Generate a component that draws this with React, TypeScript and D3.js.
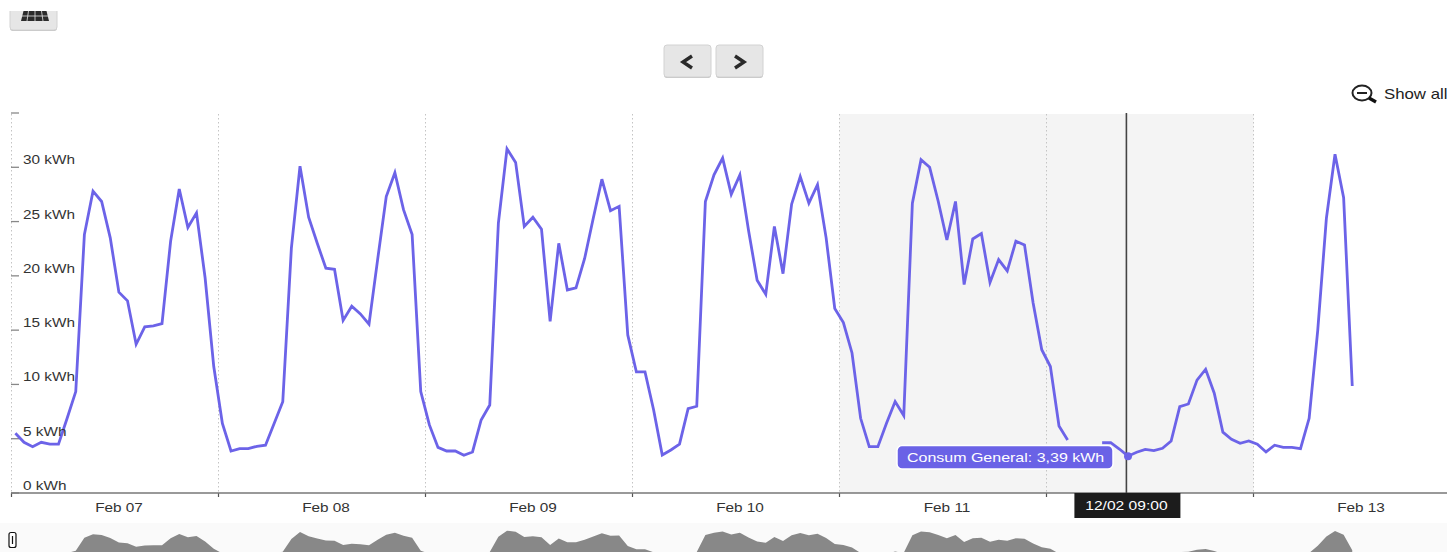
import React from "react";
import * as d3 from "d3";

const consumption: (number | null)[] = [
  5.5, 4.67, 4.27, 4.67, 4.5, 4.5, 6.88, 9.34, 23.8, 27.8, 26.85, 23.5, 18.5, 17.7, 13.7, 15.3, 15.4, 15.6, 23.2, 28.0, 24.45, 25.8, 19.8, 11.65, 6.4,
  3.87, 4.09, 4.09, 4.3, 4.4, 6.4, 8.4, 22.55, 30.1, 25.4, 23.0, 20.7, 20.6, 15.9, 17.2, 16.5, 15.55, 21.5, 27.3, 29.5, 26.1, 23.8, 9.34, 6.27, 4.2,
  3.87, 3.87, 3.47, 3.78, 6.73, 8.1, 24.85, 31.7, 30.45, 24.55, 25.4, 24.3, 15.8, 23.0, 18.7, 18.9, 21.6, 25.3, 28.9, 26.0, 26.4, 14.56, 11.15, 11.15, 7.65,
  3.5, 3.96, 4.5, 7.77, 7.99, 26.85, 29.3, 30.85, 27.5, 29.3, 24.2, 19.6, 18.3, 24.55, 20.2, 26.6, 29.15, 26.7, 28.4, 23.5, 17.0, 15.7, 12.9, 6.88, 4.27,
  4.27, 6.42, 8.42, 7.13, 26.7, 30.7, 30.0, 26.85, 23.3, 26.85, 19.2, 23.4, 23.9, 19.4, 21.5, 20.46, 23.2, 22.85, 17.5, 13.2, 11.65, 6.17, 4.88, null, null,
  null, 4.63, 4.63, 4.05, 3.39, 3.75, 4.02, 3.9, 4.12, 4.79, 7.95, 8.2, 10.4, 11.4, 9.19, 5.6, 4.95, 4.58, 4.79, 4.49, 3.78, 4.4, 4.2, 4.2, 4.09, 6.88,
  15.0, 25.3, 31.2, 27.2, 9.86,
];
const yTicks = [0, 5, 10, 15, 20, 25, 30];
const yTopTick = 35;
const dayStarts = ["2021-02-07", "2021-02-08", "2021-02-09", "2021-02-10", "2021-02-11", "2021-02-12", "2021-02-13"];
const dayLabels = ["Feb 07", "Feb 08", "Feb 09", "Feb 10", "Feb 11", "", "Feb 13"];
const selectedBand = ["2021-02-11", "2021-02-13"];
const hoverIndex = 129;
const hoverValue = "3,39";
const hoverTime = "12/02 09:00";
const seriesName = "Consum General";

const FONT = "'Liberation Sans', Arial, sans-serif";
const parse = (s: string) => new Date(s + "T00:00:00");
const HOUR = 3600 * 1000;

const t = d3.scaleTime().domain([parse(dayStarts[0]), parse(dayStarts[6])]).range([11.5, 1253.5]);
const firstPoint = parse(dayStarts[0]).getTime() + 0.45 * HOUR;
const x = (i: number) => t(new Date(firstPoint + i * HOUR));
const y = d3.scaleLinear().domain([0, 35]).range([493, 113]);
const navY = d3.scaleLinear().domain([0, 35]).range([559.2, 527.7]);

const line = d3
  .line<number | null>()
  .defined((d) => d !== null)
  .x((_, i) => x(i))
  .y((d) => y(d as number));

// In the navigator the unreadable stretch is low enough to fall below the crop.
const navArea = d3
  .area<number | null>()
  .x((_, i) => x(i))
  .y0(560)
  .y1((d) => navY(d ?? 0));

const Txt = ({ x: px, y: py, fill = "#333", size = 13, anchor = "start", sx = 1.18, children }: any) => (
  <text
    transform={`translate(${px},${py}) scale(${sx},1)`}
    fontFamily={FONT}
    fontSize={size}
    fill={fill}
    textAnchor={anchor}
  >
    {children}
  </text>
);

const Button = ({ bx, by, w, h }: any) => (
  <g>
    <rect x={bx} y={by + 1} width={w} height={h} rx={3} fill="#c4c4c4" />
    <rect x={bx} y={by} width={w} height={h} rx={3} fill="#e6e6e6" stroke="#d2d2d2" />
  </g>
);

export default function App() {
  const hx = x(hoverIndex);
  const hy = y(consumption[hoverIndex] as number);
  const crossX = hx - 1.6;
  return (
    <div style={{ position: "fixed", left: 0, top: 0, width: 1447, height: 552, overflow: "hidden", background: "#fff" }}>
      <svg width={1447} height={552} viewBox="0 0 1447 552" style={{ display: "block" }}>
        {/* top-left panel button (cropped) */}
        <Button bx={10} by={3} w={47} h={27} />
        <rect x={0} y={0} width={70} height={11} fill="#fff" />
        <path d="M23.5 11H46.5L49 21H21Z" fill="#2b2b2b" />
        <path d="M28.5 11L27 21M35 11V21M41.5 11L43 21M22 16H48" stroke="#e6e6e6" strokeWidth={0.8} fill="none" />

        {/* pager buttons */}
        <Button bx={664} by={45} w={47} h={32} />
        <Button bx={716} by={45} w={47} h={32} />
        <path d="M692 56L683 62L692 68" fill="none" stroke="#2a2a2a" strokeWidth={3.4} />
        <path d="M735 56L744 62L735 68" fill="none" stroke="#2a2a2a" strokeWidth={3.4} />

        {/* show all */}
        <ellipse cx={1362} cy={93} rx={9.5} ry={7.5} fill="none" stroke="#222" strokeWidth={2} />
        <path d="M1357 93H1367" stroke="#222" strokeWidth={2} />
        <path d="M1369 98L1376 102" stroke="#111" strokeWidth={3.4} />
        <Txt x={1384} y={99} size={14} fill="#222" sx={1.2}>Show all</Txt>

        {/* selected band */}
        <rect
          x={t(parse(selectedBand[0]))}
          y={114}
          width={t(parse(selectedBand[1])) - t(parse(selectedBand[0]))}
          height={379}
          fill="#f4f4f4"
        />

        {/* vertical grid and ticks */}
        {dayStarts.map((d) => (
          <g key={d}>
            <line x1={t(parse(d))} x2={t(parse(d))} y1={114} y2={493} stroke="#c4c4c4" strokeDasharray="1.5 2.5" />
            <line x1={t(parse(d))} x2={t(parse(d))} y1={493} y2={497} stroke="#555" strokeWidth={1.2} />
          </g>
        ))}

        {/* y axis ticks and labels */}
        {[...yTicks, yTopTick].map((v) => (
          <line key={v} x1={11} x2={19} y1={y(v)} y2={y(v)} stroke="#888" strokeWidth={1.3} />
        ))}
        <path d={line(consumption) ?? ""} fill="none" stroke="#6c63e8" strokeWidth={2.8} strokeLinejoin="miter" />
        {yTicks.map((v) => (
          <Txt key={v} x={23} y={y(v) - 3}>{`${v} kWh`}</Txt>
        ))}

        {/* x axis */}
        <line x1={11} x2={1447} y1={493} y2={493} stroke="#777" strokeWidth={1.6} />
        {dayStarts.map((d, i) =>
          dayLabels[i] ? (
            <Txt key={d} x={t(new Date(parse(d).getTime() + 12 * HOUR)) + 4} y={512} anchor="middle" sx={1.18}>
              {dayLabels[i]}
            </Txt>
          ) : null
        )}

        {/* crosshair */}
        <line x1={crossX} x2={crossX} y1={113} y2={493} stroke="#444" strokeWidth={1.6} />
        <rect x={crossX - 52} y={493} width={106} height={25} fill="#1c1c1c" />
        <Txt x={crossX} y={510} fill="#fff" anchor="middle" sx={1.2}>{hoverTime}</Txt>

        {/* tooltip */}
        <circle cx={hx} cy={hy} r={4} fill="#6c63e8" />
        <rect x={897} y={445.5} width={216} height={23.5} rx={5} fill="#6a62e6" stroke="#fff" strokeWidth={1.5} />
        <Txt x={907} y={462} fill="#fff" sx={1.23}>{`${seriesName}: ${hoverValue} kWh`}</Txt>

        {/* navigator */}
        <rect x={0} y={523} width={1447} height={29} fill="#fafafa" />
        <path d={navArea(consumption) ?? ""} fill="#888" />
        <rect x={9} y={532.5} width={7} height={15} rx={2} fill="#fff" stroke="#111" strokeWidth={1.2} />
        <line x1={12.5} x2={12.5} y1={536} y2={544} stroke="#111" strokeWidth={1.2} />
      </svg>
    </div>
  );
}
